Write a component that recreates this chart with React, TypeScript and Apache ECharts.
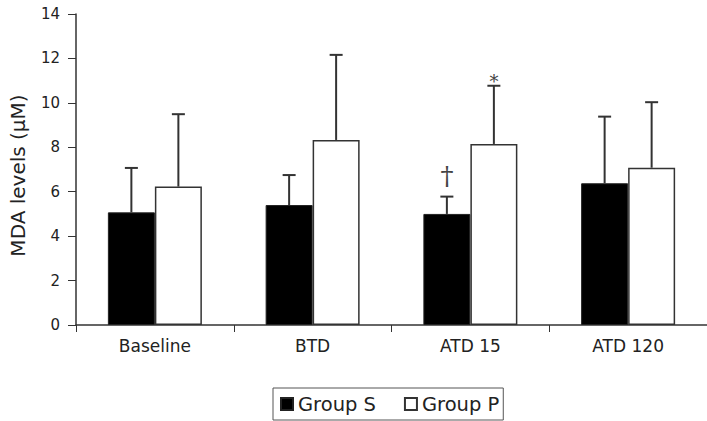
import React, { useEffect, useRef } from "react";
import * as echarts from "echarts";

const categories = ["Baseline", "BTD", "ATD 15", "ATD 120"];
const groupS = [5.07, 5.4, 5.0, 6.38];
const groupSErr = [2.0, 1.35, 0.78, 3.0];
const groupP = [6.23, 8.33, 8.15, 7.08];
const groupPErr = [3.26, 3.83, 2.62, 2.95];
const groupSMarks = ["", "", "†", ""];
const groupPMarks = ["", "", "*", ""];
const yTicks = { min: 0, max: 14, interval: 2 };

const FONT = "DejaVu Sans";
const BAR_W = 47;

function errorSeries(name: string, values: number[], errs: number[], marks: string[], side: number) {
  return {
    type: "custom",
    name: name + " err",
    z: 5,
    silent: true,
    data: values.map((v, i) => [i, v, errs[i]]),
    renderItem: (params: any, api: any) => {
      const i = api.value(0);
      const v = api.value(1);
      const e = api.value(2);
      const base = api.coord([i, v]);
      const top = api.coord([i, v + e]);
      const x = base[0] + side * (BAR_W / 2);
      const children: any[] = [
        { type: "line", shape: { x1: x, y1: base[1], x2: x, y2: top[1] }, style: { stroke: "#333", lineWidth: 2 } },
        { type: "line", shape: { x1: x - 6.5, y1: top[1], x2: x + 6.5, y2: top[1] }, style: { stroke: "#333", lineWidth: 2 } },
      ];
      const m = marks[params.dataIndex];
      if (m) {
        const isDagger = m === "†";
        children.push({
          type: "text",
          style: {
            text: m,
            x: x,
            y: isDagger ? top[1] - 8 : top[1] + 5,
            align: "center",
            verticalAlign: "bottom",
            fill: "#444",
            font: (isDagger ? "26px" : "18px") + " 'DejaVu Serif', serif",
          },
        });
      }
      return { type: "group", children };
    },
  };
}

export default function App() {
  const ref = useRef<HTMLDivElement>(null);
  useEffect(() => {
    document.body.style.margin = "0";
    document.body.style.overflow = "hidden";
    const chart = echarts.init(ref.current!, null, { renderer: "svg" });
    chart.setOption({
      animation: false,
      backgroundColor: "#fff",
      textStyle: { fontFamily: FONT },
      grid: { left: 76, top: 14, width: 637, height: 311 },
      legend: {
        data: ["Group S", "Group P"],
        left: 273,
        top: 388,
        padding: [6, 4, 6, 7],
        itemWidth: 12,
        itemHeight: 12,
        itemGap: 28,
        icon: "rect",
        borderColor: "#555",
        borderWidth: 1,
        textStyle: { fontSize: 19.5, color: "#222", fontFamily: FONT },
      },
      xAxis: {
        type: "category",
        data: categories,
        axisLine: { lineStyle: { color: "#333", width: 1.5 } },
        axisTick: { show: true, alignWithLabel: false, interval: 0, length: 7, lineStyle: { color: "#333" } },
        axisLabel: { fontSize: 17, color: "#222", margin: 12, fontFamily: FONT },
      },
      yAxis: {
        type: "value",
        min: yTicks.min,
        max: yTicks.max,
        interval: yTicks.interval,
        name: "MDA levels (μM)",
        nameLocation: "middle",
        nameRotate: 90,
        nameGap: 48,
        nameTextStyle: { fontSize: 20, color: "#222", fontFamily: FONT, padding: [0, 12, 0, 0] },
        axisLine: { show: true, lineStyle: { color: "#333", width: 1.5 } },
        axisTick: { show: true, length: 8, lineStyle: { color: "#333" } },
        splitLine: { show: false },
        axisLabel: { fontSize: 15, color: "#222", margin: 16, fontFamily: FONT },
      },
      series: [
        {
          name: "Group S",
          type: "bar",
          data: groupS,
          barWidth: BAR_W,
          barGap: "0%",
          itemStyle: { color: "#000", borderColor: "#222", borderWidth: 1 },
        },
        {
          name: "Group P",
          type: "bar",
          data: groupP,
          barWidth: BAR_W,
          barGap: "0%",
          itemStyle: { color: "#fff", borderColor: "#333", borderWidth: 1.5 },
        },
        errorSeries("Group S", groupS, groupSErr, groupSMarks, -1),
        errorSeries("Group P", groupP, groupPErr, groupPMarks, 1),
      ],
    });
    return () => chart.dispose();
  }, []);
  return <div ref={ref} style={{ width: 707, height: 421 }} />;
}
